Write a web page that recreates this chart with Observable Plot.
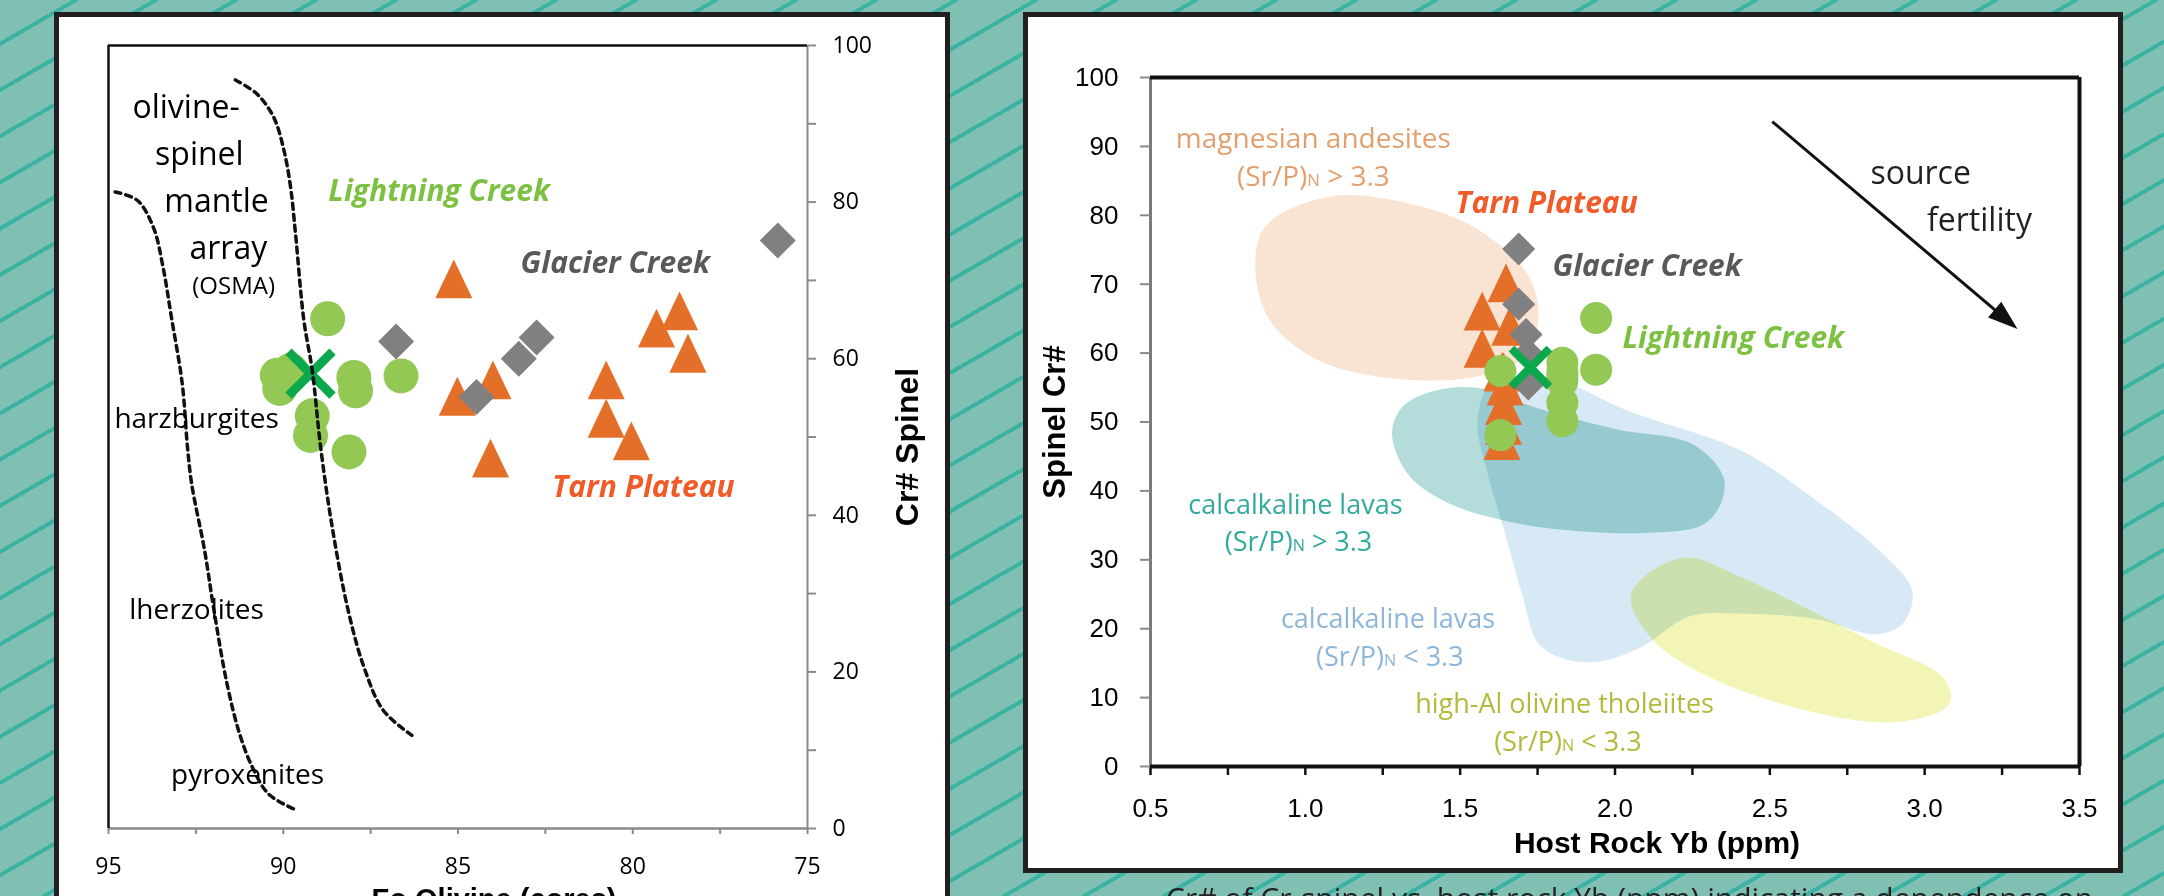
<!DOCTYPE html>
<html><head><meta charset="utf-8">
<script src="https://cdn.jsdelivr.net/npm/d3@7"></script>
<script src="https://cdn.jsdelivr.net/npm/@observablehq/plot@0.6"></script>
<style>
html,body{margin:0;padding:0;width:2164px;height:896px;overflow:hidden;}
body{position:relative;background-color:#80c0b2;
 background-image:repeating-linear-gradient(150deg, rgba(0,0,0,0) 0px 36px, #3ab3a3 36px 40px);}
.frame{position:absolute;box-sizing:border-box;border:5px solid #231f20;background:#fff;}
#f1{left:54px;top:12px;width:896px;height:1000px;}
#f2{left:1023px;top:12px;width:1100px;height:861px;}
#p1{position:absolute;left:59px;top:17px;}
#p2{position:absolute;left:1028px;top:17px;}
#cap{position:absolute;left:1166px;top:883px;font:30px/30px 'Open Sans','Noto Sans',sans-serif;color:#231f20;white-space:nowrap;}
svg{overflow:visible;}
</style></head><body>
<div class="frame" id="f1"></div><div class="frame" id="f2"></div>
<div id="p1"></div><div id="p2"></div>
<div id="cap">Cr# of Cr-spinel vs. host rock Yb (ppm) indicating a dependence on</div>
<script>
// ---------------- DATA ----------------
// Left panel: Fo olivine (cores) vs Cr# spinel
const lightningFo = [88.73, 86.63, 90.17, 90.10, 89.79, 87.98, 87.93, 89.17, 89.22, 88.12];
const lightningCrL = [65.1, 57.8, 57.9, 56.2, 58.5, 57.6, 55.9, 52.7, 50.2, 48.1];
const glacierFo = [86.77, 82.75, 83.26, 84.47, 75.85];
const glacierCrL = [62.2, 62.7, 60.0, 55.1, 75.1];
const tarnFo = [85.12, 84.0, 85.02, 84.07, 80.76, 80.76, 80.04, 79.32, 78.66, 78.42];
const tarnCrL = [70.2, 57.3, 55.2, 47.3, 57.3, 52.4, 49.5, 63.9, 66.1, 60.7];
const meanFo = [89.22];
const meanCrL = [58.1];
// OSMA boundary curves (Fo, Cr#)
const osmaLeftFo = [94.81, 94.17, 93.71, 93.44, 93.2, 92.89, 92.74, 92.62, 92.25, 91.98, 91.61, 91.25, 90.88, 90.42, 89.70];
const osmaLeftCr = [81.3, 80.2, 76.7, 71.7, 65.3, 56.8, 48.7, 44.0, 35.5, 27.8, 18.5, 12.1, 7.8, 4.4, 2.5];
const osmaRightFo = [91.37, 90.75, 90.27, 89.98, 89.79, 89.65, 89.41, 89.17, 88.93, 88.6, 88.14, 87.69, 87.14, 86.32];
const osmaRightCr = [95.6, 93.8, 90.8, 86.6, 81.9, 76.0, 64.9, 58.5, 48.7, 38.5, 27.8, 20.6, 15.1, 11.9];

// Right panel: host rock Yb (ppm) vs Spinel Cr#
const tarnYb = [1.648, 1.571, 1.66, 1.571, 1.635, 1.64, 1.645, 1.64, 1.64, 1.635];
const tarnCrR = [70.2, 66.1, 63.9, 60.7, 57.3, 57.3, 55.2, 52.4, 49.5, 47.3];
const glacierYb = [1.689, 1.689, 1.713, 1.72, 1.72];
const glacierCrR = [75.1, 67.1, 62.7, 59.8, 55.5];
const lightningYb = [1.939, 1.939, 1.63, 1.83, 1.83, 1.83, 1.83, 1.63, 1.83, 1.83];
const lightningCrR = [65.1, 57.6, 57.4, 58.6, 55.9, 52.8, 50.1, 48.1, 57.2, 56.5];
const meanYb = [1.727];
const meanCrR = [57.9];
// Compositional fields (Yb, Cr#)
const magnesianField = [[1.091,82.8],[1.372,81.3],[1.566,77.7],[1.711,71.9],[1.753,66.1],[1.711,59.6],[1.566,56.7],[1.307,56.2],[1.049,58.8],[0.888,64.6],[0.839,71.9],[0.871,78.4]];
const calcHighField = [[1.28,48.3],[1.31,52.0],[1.40,54.3],[1.55,55.0],[1.75,52.0],[2.0,49.0],[2.25,46.8],[2.35,42.0],[2.34,38.0],[2.28,35.0],[2.10,33.9],[1.85,34.3],[1.64,35.7],[1.45,38.5],[1.33,42.5]];
const calcLowField = [[1.60,55.5],[1.78,56.5],[2.05,51.5],[2.41,45.8],[2.65,38.6],[2.85,31.5],[2.96,25.5],[2.93,20.8],[2.84,19.2],[2.65,21.4],[2.40,22.2],[2.24,21.8],[2.08,17.2],[1.91,15.1],[1.76,17.5],[1.70,25],[1.64,34.6],[1.58,44],[1.556,50]];
const tholeiiteField = [[2.22,30.3],[2.41,27.4],[2.65,22.2],[2.845,17.8],[3.06,12.9],[3.08,9.1],[2.89,6.4],[2.41,11.0],[2.124,18.3],[2.053,25.1]];
const fertilityArrow = {x1: 2.508, y1: 93.6, x2: 3.263, y2: 64.9};

// Tick labels
const leftXTicks = d3.range(75, 95.01, 2.5);
const leftYTicks = d3.range(0, 100.01, 10);
const rightXTicks = d3.range(0.5, 3.501, 0.25);
const rightYTicks = d3.range(0, 100.01, 10);

// ---------------- SYMBOLS ----------------
const diamond = {draw(ctx, size){ const r = Math.sqrt(size/Math.PI); ctx.moveTo(0,-r); ctx.lineTo(r,0); ctx.lineTo(0,r); ctx.lineTo(-r,0); ctx.closePath(); }};
const triangle = {draw(ctx, size){ const r = Math.sqrt(size/Math.PI); const h = r*1.05; ctx.moveTo(0,-h); ctx.lineTo(r,h); ctx.lineTo(-r,h); ctx.closePath(); }};
const cross = {draw(ctx, size){ const r = Math.sqrt(size/Math.PI); ctx.moveTo(-r,-r); ctx.lineTo(r,r); ctx.moveTo(-r,r); ctx.lineTo(r,-r); }};
const head = {draw(ctx, size){ const r = Math.sqrt(size/Math.PI); ctx.moveTo(0,-r); ctx.lineTo(r*0.68,r); ctx.lineTo(-r*0.68,r); ctx.closePath(); }};

const SANS = "'Open Sans','Noto Sans',sans-serif";
const ARIAL = "'Liberation Sans',Arial,sans-serif";
const ORANGE = "#e36f29", GREY = "#808080", GREEN = "#92c853", XGREEN = "#0ba84d";
const pts = (xs, ys) => xs.map((x, i) => ({x, y: ys[i]}));

// ---------------- LEFT PLOT ----------------
const left = Plot.plot({
  width: 886, height: 900,
  marginLeft: 49, marginTop: 28, marginRight: 138, marginBottom: 89,
  x: {domain: [95, 75]},
  y: {domain: [0, 100]},
  style: {fontFamily: SANS, fontSize: "23px", color: "black", background: "transparent"},
  marks: [
    Plot.ruleX([75], {stroke: "#8a8a8a", strokeWidth: 2}),
    Plot.ruleY([0], {stroke: "#8a8a8a", strokeWidth: 2.5}),
    Plot.ruleX([95], {stroke: "#111", strokeWidth: 2.5}),
    Plot.ruleY([100], {stroke: "#111", strokeWidth: 2.5}),
    Plot.axisX({anchor: "bottom", ticks: leftXTicks, tickFormat: d => d % 5 === 0 ? String(d) : "", tickSize: 6, tickPadding: 23, stroke: "#8a8a8a", strokeWidth: 2, fill: "black", label: null}),
    Plot.axisY({anchor: "right", ticks: leftYTicks, tickFormat: d => d % 20 === 0 ? String(d) : "", tickSize: 8, tickPadding: 17, stroke: "#8a8a8a", strokeWidth: 2, fill: "black", label: null}),
    Plot.dot(pts(tarnFo, tarnCrL), {x: "x", y: "y", symbol: triangle, r: 18.5, fill: ORANGE, stroke: "none"}),
    Plot.dot(pts(glacierFo, glacierCrL), {x: "x", y: "y", symbol: diamond, r: 18, fill: GREY, stroke: "none"}),
    Plot.dot(pts(lightningFo, lightningCrL), {x: "x", y: "y", r: 17.5, fill: GREEN, stroke: "none"}),
    Plot.dot(pts(meanFo, meanCrL), {x: "x", y: "y", symbol: cross, r: 22, fill: "none", stroke: XGREEN, strokeWidth: 9}),
    Plot.line(pts(osmaLeftFo, osmaLeftCr), {x: "x", y: "y", curve: "catmull-rom", stroke: "#111", strokeWidth: 3.5, strokeDasharray: "6,5"}),
    Plot.line(pts(osmaRightFo, osmaRightCr), {x: "x", y: "y", curve: "catmull-rom", stroke: "#111", strokeWidth: 3.5, strokeDasharray: "6,5"}),
    Plot.text(["olivine-", "spinel", "mantle", "array"], {x: [92.78, 92.40, 91.91, 91.57], y: [90.8, 84.7, 78.7, 72.7], text: d => d, fontSize: 32, lineAnchor: "bottom", fill: "black"}),
    Plot.text(["(OSMA)"], {x: [91.42], y: [68.3], text: d => d, fontSize: 24, lineAnchor: "bottom", fill: "black"}),
    Plot.text(["harzburgites", "lherzolites", "pyroxenites"], {x: [92.48, 92.48, 91.02], y: [51.2, 26.8, 5.7], text: d => d, fontSize: 28, lineAnchor: "bottom", fill: "black"}),
    Plot.text(["Lightning Creek"], {x: [88.71], y: [80.2], text: d => d, textAnchor: "start", lineAnchor: "bottom", fontSize: 30, fontWeight: "bold", fontStyle: "italic", fill: "#7cc142"}),
    Plot.text(["Glacier Creek"], {x: [83.21], y: [71.0], text: d => d, textAnchor: "start", lineAnchor: "bottom", fontSize: 30, fontWeight: "bold", fontStyle: "italic", fill: "#58595b"}),
    Plot.text(["Tarn Plateau"], {x: [82.30], y: [42.3], text: d => d, textAnchor: "start", lineAnchor: "bottom", fontSize: 30, fontWeight: "bold", fontStyle: "italic", fill: "#f15a29"}),
    Plot.text(["Cr# Spinel"], {frameAnchor: "right", textAnchor: "middle", dx: 100, dy: 10, rotate: -90, fontSize: 32, fontWeight: "bold", fontFamily: ARIAL, fill: "black"}),
    Plot.text(["Fo Olivine (cores)"], {frameAnchor: "bottom", textAnchor: "middle", dx: 36, dy: 80, lineAnchor: "bottom", fontSize: 29, fontWeight: "bold", fontFamily: ARIAL, fill: "black"})
  ]
});
document.getElementById("p1").appendChild(left);

// ---------------- RIGHT PLOT ----------------
const right = Plot.plot({
  width: 1090, height: 850,
  marginLeft: 122, marginTop: 60, marginRight: 39, marginBottom: 101,
  x: {domain: [0.5, 3.5]},
  y: {domain: [0, 100]},
  style: {fontFamily: ARIAL, fontSize: "26px", color: "black", background: "transparent"},
  marks: [
    Plot.line(calcLowField, {x: d => d[0], y: d => d[1], curve: "catmull-rom-closed", fill: "#d6e9f4", stroke: "none", mixBlendMode: "multiply"}),
    Plot.line(calcHighField, {x: d => d[0], y: d => d[1], curve: "catmull-rom-closed", fill: "#b3dcda", stroke: "none", mixBlendMode: "multiply"}),
    Plot.line(tholeiiteField, {x: d => d[0], y: d => d[1], curve: "catmull-rom-closed", fill: "#f3f5b6", stroke: "none", mixBlendMode: "multiply"}),
    Plot.line(magnesianField, {x: d => d[0], y: d => d[1], curve: "catmull-rom-closed", fill: "#f9e3d3", stroke: "none", mixBlendMode: "multiply"}),
    Plot.ruleX([0.5], {stroke: "#7a7a7a", strokeWidth: 3}),
    Plot.ruleY([100], {stroke: "#111", strokeWidth: 4}),
    Plot.ruleX([3.5], {stroke: "#111", strokeWidth: 4}),
    Plot.ruleY([0], {stroke: "#111", strokeWidth: 4}),
    Plot.axisX({anchor: "bottom", ticks: rightXTicks, tickFormat: d => Math.abs(d*2 - Math.round(d*2)) < 1e-9 ? d.toFixed(1) : "", tickSize: 9, tickPadding: 23, stroke: "#111", strokeWidth: 2.5, fill: "black", label: null}),
    Plot.axisY({anchor: "left", ticks: rightYTicks, tickSize: 10, tickPadding: 22, stroke: "#8a8a8a", strokeWidth: 2, fill: "black", label: null}),
    Plot.text(["magnesian andesites", "(Sr/P)N > 3.3"], {x: [1.026, 1.026], y: [89.7, 84.2], text: d => d, lineAnchor: "bottom", fontSize: 28, fontFamily: SANS, fill: "#e2a06e"}),
    Plot.text(["calcalkaline lavas", "(Sr/P)N > 3.3"], {x: [0.968, 0.978], y: [36.7, 31.3], text: d => d, lineAnchor: "bottom", fontSize: 27, fontFamily: SANS, fill: "#33aa9d"}),
    Plot.text(["calcalkaline lavas", "(Sr/P)N < 3.3"], {x: [1.267, 1.273], y: [20.1, 14.6], text: d => d, lineAnchor: "bottom", fontSize: 27, fontFamily: SANS, fill: "#8cb6da"}),
    Plot.text(["high-Al olivine tholeiites", "(Sr/P)N < 3.3"], {x: [1.837, 1.848], y: [7.8, 2.3], text: d => d, lineAnchor: "bottom", fontSize: 27, fontFamily: SANS, fill: "#b3b93c"}),
    Plot.link([fertilityArrow], {x1: "x1", y1: "y1", x2: "x2", y2: "y2", stroke: "#111", strokeWidth: 3}),
    Plot.dot([fertilityArrow], {x: "x2", y: "y2", symbol: head, r: 15, rotate: 130.4, fill: "#111", stroke: "none"}),
    Plot.text(["source", "fertility"], {x: [2.987, 3.177], y: [84.5, 77.7], text: d => d, lineAnchor: "bottom", fontSize: 32, fontFamily: SANS, fill: "#231f20"}),
    Plot.dot(pts(tarnYb, tarnCrR), {x: "x", y: "y", symbol: triangle, r: 18.5, fill: ORANGE, stroke: "none"}),
    Plot.dot(pts(glacierYb, glacierCrR), {x: "x", y: "y", symbol: diamond, r: 16.5, fill: GREY, stroke: "none"}),
    Plot.dot(pts(lightningYb, lightningCrR), {x: "x", y: "y", r: 16, fill: GREEN, stroke: "none"}),
    Plot.dot(pts(meanYb, meanCrR), {x: "x", y: "y", symbol: cross, r: 19, fill: "none", stroke: XGREEN, strokeWidth: 8}),
    Plot.text(["Tarn Plateau"], {x: [1.485], y: [80.3], text: d => d, textAnchor: "start", lineAnchor: "bottom", fontSize: 30, fontFamily: SANS, fontWeight: "bold", fontStyle: "italic", fill: "#f15a29"}),
    Plot.text(["Glacier Creek"], {x: [1.798], y: [71.2], text: d => d, textAnchor: "start", lineAnchor: "bottom", fontSize: 30, fontFamily: SANS, fontWeight: "bold", fontStyle: "italic", fill: "#58595b"}),
    Plot.text(["Lightning Creek"], {x: [2.024], y: [60.7], text: d => d, textAnchor: "start", lineAnchor: "bottom", fontSize: 30, fontFamily: SANS, fontWeight: "bold", fontStyle: "italic", fill: "#7cc142"}),
    Plot.text(["Spinel Cr#"], {frameAnchor: "left", textAnchor: "middle", dx: -95, dy: 0, rotate: -90, fontSize: 31, fontWeight: "bold", fill: "black"}),
    Plot.text(["Host Rock Yb (ppm)"], {frameAnchor: "bottom", textAnchor: "middle", dx: 42, dy: 86, lineAnchor: "bottom", fontSize: 30, fontWeight: "bold", fill: "black"})
  ]
});
document.getElementById("p2").appendChild(right);

// subscript N in (Sr/P)N
document.querySelectorAll("svg text").forEach(el => {
  const s = el.textContent;
  if (el.children.length === 0 && s.startsWith("(Sr/P)N")) {
    const rest = s.slice(7);
    el.textContent = "";
    el.appendChild(document.createTextNode("(Sr/P)"));
    const t = document.createElementNS("http://www.w3.org/2000/svg", "tspan");
    t.setAttribute("font-size", "0.6em");
    t.textContent = "N";
    el.appendChild(t);
    el.appendChild(document.createTextNode(rest));
  }
});
</script>
</body></html>
